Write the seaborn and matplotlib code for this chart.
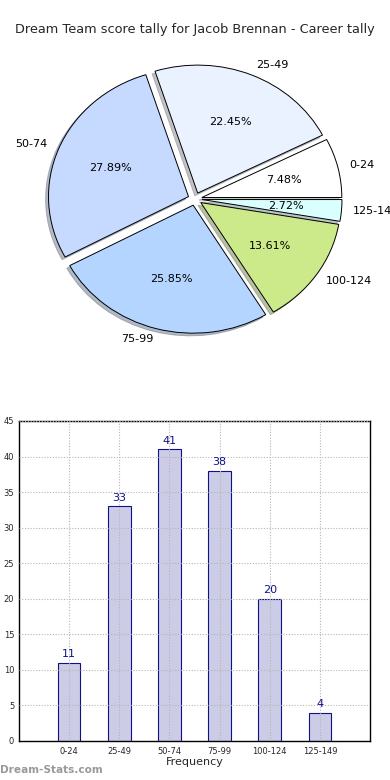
import matplotlib
matplotlib.use("Agg")
import matplotlib.pyplot as plt
import seaborn as sns
import pandas as pd

categories = ["0-24", "25-49", "50-74", "75-99", "100-124", "125-149"]
counts = [11, 33, 41, 38, 20, 4]
pie_colors = ["#ffffff", "#eaf2ff", "#c6d9ff", "#b4d5ff", "#cdea8a", "#d9ffff"]
title = "Dream Team score tally for Jacob Brennan - Career tally"

sns.set_theme(style="white")
plt.rcParams['font.family'] = ['DejaVu Sans']

fig = plt.figure(figsize=(3.9, 7.8), dpi=100)

# Pie chart
ax1 = fig.add_axes([20/390, 1 - 359/780, 350/390, 320/780])
wedges, texts, autotexts = ax1.pie(
    counts, labels=categories, colors=pie_colors, explode=[0.05]*len(counts),
    autopct="%1.2f%%", shadow={"ox": -0.015, "oy": -0.015, "shade": 0.45},
    startangle=0, pctdistance=0.6, labeldistance=1.085,
    wedgeprops=dict(edgecolor="black", linewidth=0.7),
    textprops=dict(fontsize=8, color="black"))
ax1.set_aspect("auto")
ax1.set_xlim(-1.25, 1.25)
ax1.set_ylim(-1.25, 1.25)
for t in texts:
    t.set_clip_on(False)

fig.text(0.5, 1 - 30/780, title, ha="center", va="center", fontsize=9.3)

# Bar chart
ax2 = fig.add_axes([19/390, 1 - 741/780, 351/390, 320/780])
df = pd.DataFrame({"range": categories, "count": counts})
sns.barplot(data=df, x="range", y="count", ax=ax2, color="#ccccE6", saturation=1,
            width=0.45, edgecolor="#10108a", linewidth=0.8, zorder=2)
ax2.set_xlim(-1, 6)
ax2.set_ylim(0, 45)
ax2.set_yticks(range(0, 46, 5))
ax2.grid(True, linestyle=(0, (1, 1.5)), color="#b5b5b5", linewidth=0.8, zorder=3)
ax2.set_axisbelow(False)
for line in ax2.get_xgridlines() + ax2.get_ygridlines():
    line.set_zorder(3)
ax2.tick_params(axis="both", labelsize=6, direction="in", length=3, color="#999999")
ax2.tick_params(axis="x", pad=4)
ax2.set_xlabel("Frequency", fontsize=8, labelpad=1)
ax2.set_ylabel("")
for s in ax2.spines.values():
    s.set_color("black")
    s.set_linewidth(1.0)
for i, v in enumerate(counts):
    ax2.text(i, v + 0.5, str(v), ha="center", va="bottom", fontsize=8, color="#10108a")

fig.text(0.0, 1 - 770/780, "Dream-Stats.com", ha="left", va="center", fontsize=7.6,
         color="#999999", fontweight="bold")

fig.savefig("out.png", dpi=100)
